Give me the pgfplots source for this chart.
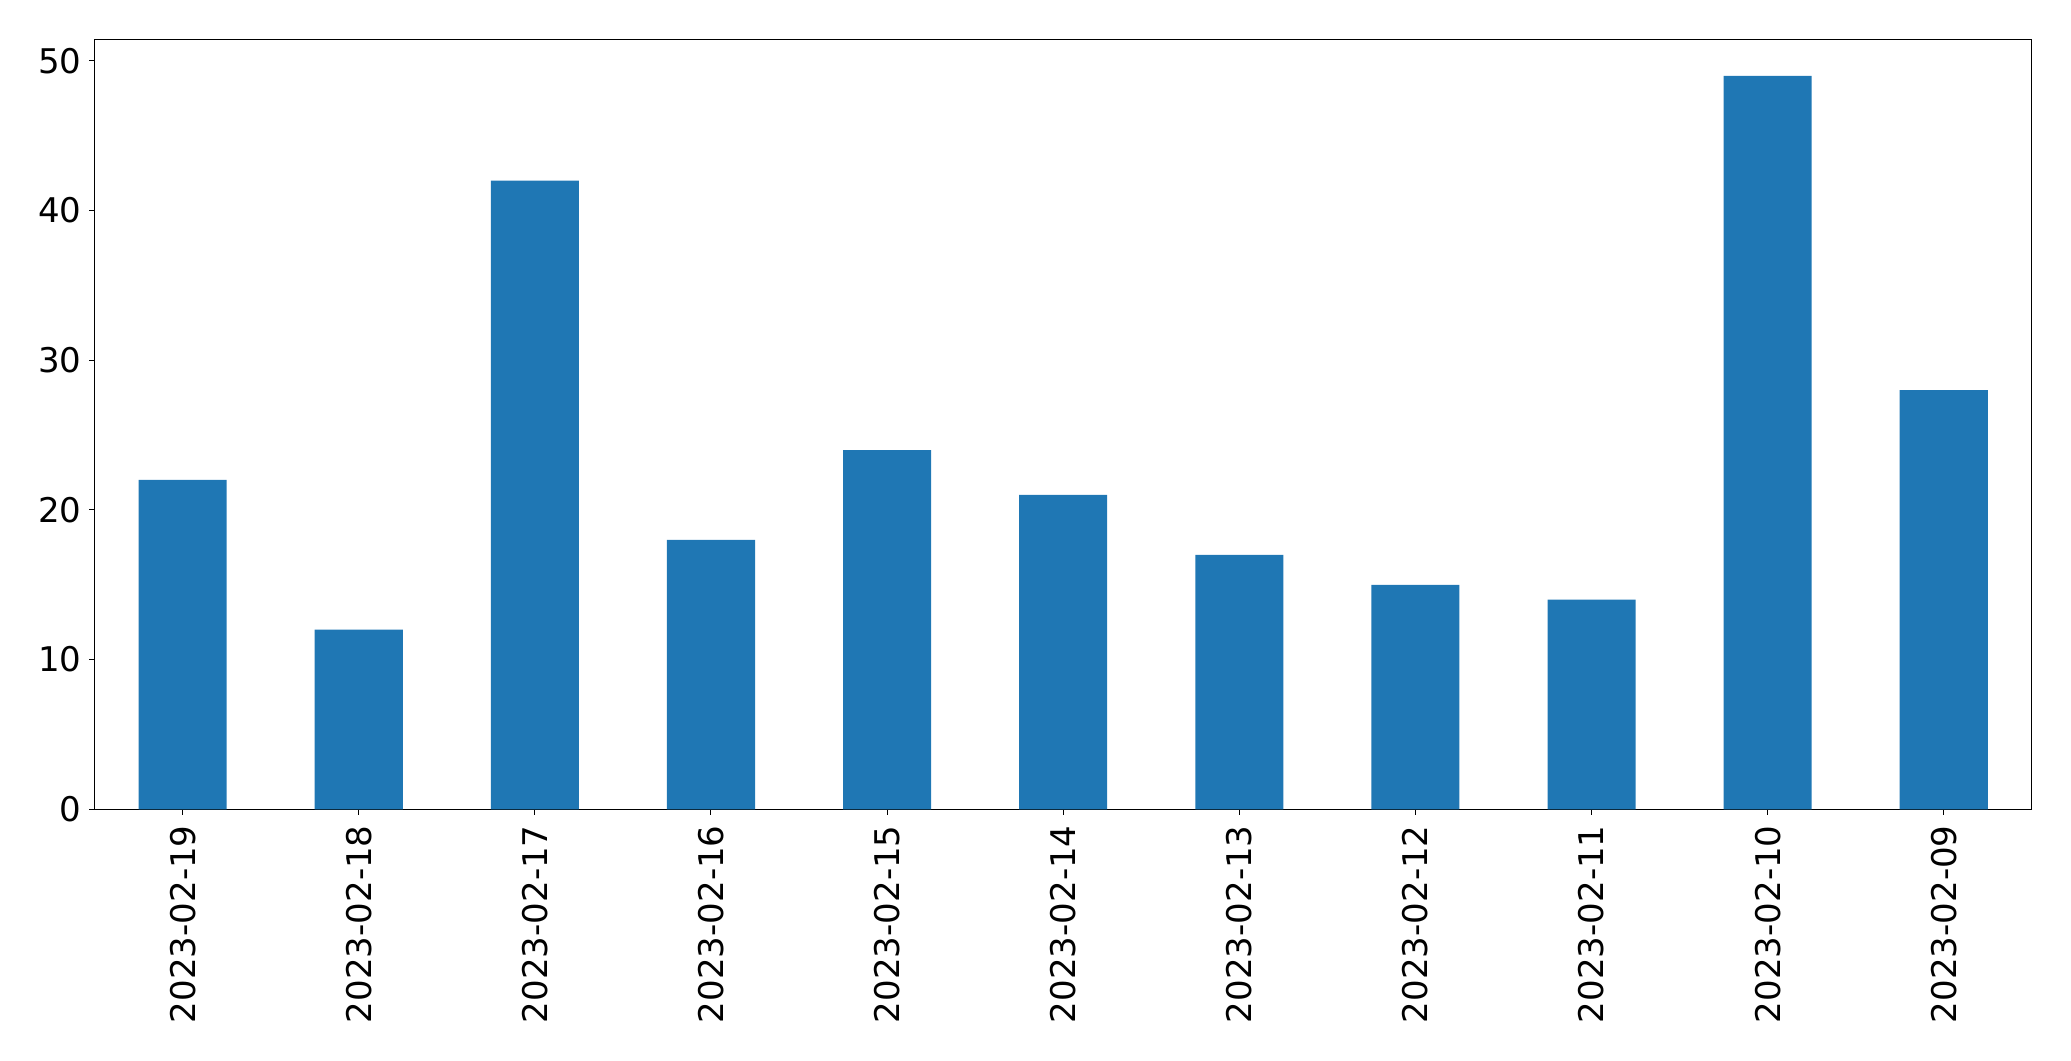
\documentclass[border=0pt]{standalone}
\usepackage{pgfplots}
\pgfplotsset{compat=1.18}
\usetikzlibrary{calc}
\usepackage{fontspec}
\setmainfont{DejaVu Sans}
\definecolor{tabblue}{HTML}{1F77B4}
\begin{document}
\fontsize{17}{20}\selectfont
\begin{tikzpicture}
\begin{axis}[
  scale only axis,
  width=968.5pt, height=385pt,
  xmin=-0.5, xmax=10.5, ymin=0, ymax=51.45,
  ybar, bar width=0.5,
  xtick={0,1,2,3,4,5,6,7,8,9,10},
  xticklabels={2023-02-19,2023-02-18,2023-02-17,2023-02-16,2023-02-15,2023-02-14,2023-02-13,2023-02-12,2023-02-11,2023-02-10,2023-02-09},
  ytick={0,10,20,30,40,50},
  tick align=outside,
  major tick length=2.65pt,
  tick style={black, line width=0.5pt},
  axis line style={black, line width=0.5pt},
  xtick pos=bottom, ytick pos=left,
  /pgf/number format/assume math mode=true,
  xticklabel style={rotate=90, anchor=east, font=\fontsize{17}{20}\selectfont, inner xsep=5.2pt},
  yticklabel style={font=\fontsize{17}{20}\selectfont, inner xsep=3.8pt},
]
\addplot[fill=tabblue, draw=none] coordinates {
(0,22) (1,12) (2,42) (3,18) (4,24) (5,21) (6,17) (7,15) (8,14) (9,49) (10,28)};
\end{axis}
\path ($(current axis.south west)+(-47.3pt,-125.8pt)$) rectangle ($(current axis.north east)+(19.6pt,19.6pt)$);
\end{tikzpicture}
\end{document}
